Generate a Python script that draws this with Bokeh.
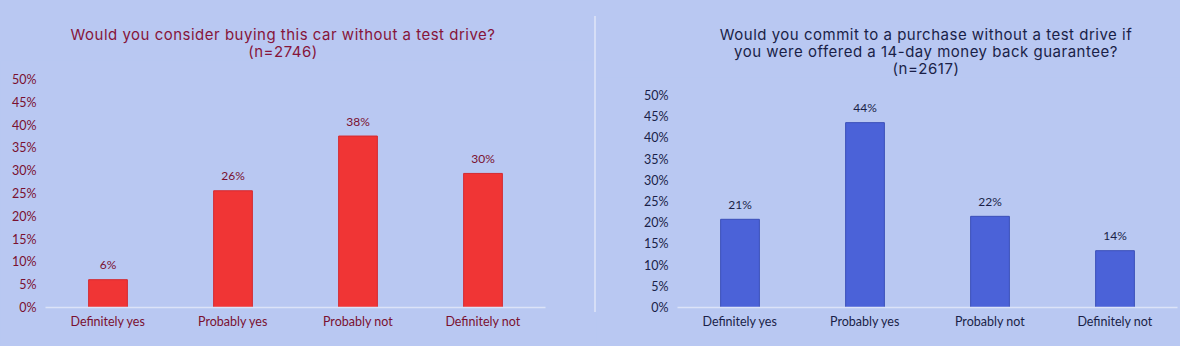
from bokeh.plotting import figure
from bokeh.layouts import row, column
from bokeh.models import (FactorRange, Range1d, FixedTicker, PrintfTickFormatter,
                          ColumnDataSource, LabelSet, Div)
from bokeh.core.properties import value
from bokeh.embed import file_html
from bokeh.resources import INLINE

categories = ["Definitely yes", "Probably yes", "Probably not", "Definitely not"]

left_values = [6.1, 25.6, 37.6, 29.4]
left_labels = ["6%", "26%", "38%", "30%"]
left_title = ["Would you consider buying this car without a test drive?", "(n=2746)"]

right_values = [20.8, 43.6, 21.5, 13.4]
right_labels = ["21%", "44%", "22%", "14%"]
right_title = ["Would you commit to a purchase without a test drive if",
               "you were offered a 14-day money back guarantee?", "(n=2617)"]

y_ticks = [0, 5, 10, 15, 20, 25, 30, 35, 40, 45, 50]

BG = "#B9C8F2"
FONT = "Lato"
TITLE_FONT = "Inter"


def make_panel(values, labels, title_lines, width, border_left, border_right,
               frame_top, bar_color, line_color, text_color, title_color,
               title_left, title_width):
    title_h = 26 + 17 * len(title_lines)
    html = ("<div style=\"margin-left:%dpx;width:%dpx;text-align:center;"
            "padding-top:26px;line-height:17px;font-family:'%s';font-size:15px;"
            "letter-spacing:0.5px;color:%s;white-space:nowrap;\">%s</div>"
            % (title_left, title_width, TITLE_FONT, title_color,
               "<br>".join(title_lines)))
    head = Div(text=html, width=width, height=title_h, margin=(0, 0, 0, 0),
               styles={"background-color": BG})

    p = figure(width=width, height=346 - title_h, x_range=FactorRange(factors=categories),
               y_range=Range1d(0, 50), output_backend="svg", toolbar_location=None,
               title=None, margin=(0, 0, 0, 0),
               min_border_left=border_left, min_border_right=border_right,
               min_border_top=frame_top - title_h, min_border_bottom=39)
    p.background_fill_color = BG
    p.border_fill_color = BG
    p.outline_line_color = None
    p.grid.grid_line_color = None

    src = ColumnDataSource(dict(cat=categories, val=values, lab=labels))
    p.vbar(x="cat", top="val", width=0.31, source=src, fill_color=bar_color,
           line_color=line_color, line_width=1)
    p.add_layout(LabelSet(x="cat", y="val", text="lab", source=src, y_offset=15,
                          text_align="center", text_baseline="middle",
                          text_font_size="12px", text_font=value(FONT),
                          text_color=text_color))

    p.yaxis.ticker = FixedTicker(ticks=y_ticks)
    p.yaxis.formatter = PrintfTickFormatter(format="%d%%")
    p.yaxis.axis_line_color = None
    p.yaxis.major_tick_line_color = None
    p.yaxis.minor_tick_line_color = None
    p.yaxis.major_tick_out = 0
    p.yaxis.major_label_standoff = 9
    p.yaxis.major_label_text_font = FONT
    p.yaxis.major_label_text_font_size = "12.5px"
    p.yaxis.major_label_text_color = text_color

    p.xaxis.axis_line_color = "#DCE3F8"
    p.xaxis.axis_line_width = 1.5
    p.xaxis.major_tick_line_color = None
    p.xaxis.major_tick_out = 0
    p.xaxis.major_label_standoff = 6
    p.xaxis.major_label_text_font = FONT
    p.xaxis.major_label_text_font_size = "12.5px"
    p.xaxis.major_label_text_color = text_color

    return column(head, p, spacing=0, margin=(0, 0, 0, 0))


left = make_panel(left_values, left_labels, left_title, 594, 45, 49, 79,
                  "#F03535", "#D42A30", "#7A1030", "#86153A", 0, 566)
right = make_panel(right_values, right_labels, right_title, 584, 81, 3, 95,
                   "#4B62D8", "#3B4FB8", "#1A1F48", "#1A1F48", 76, 508)

divider = Div(width=2, height=296, margin=(16, 0, 0, 0),
              styles={"background-color": "#D6DEF6"})

p = row(left, divider, right, spacing=0, styles={"background-color": BG})

open("out.html", "w").write(file_html(p, INLINE))
